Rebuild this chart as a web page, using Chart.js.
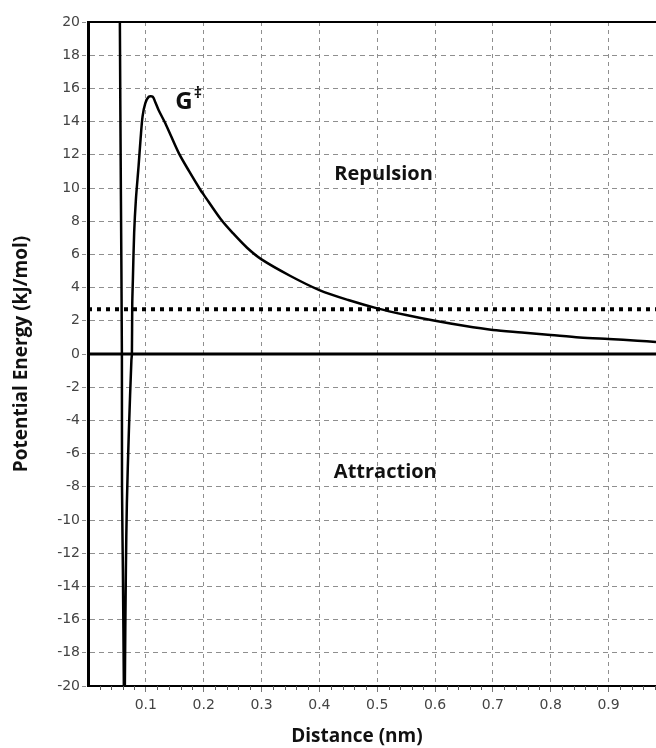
<!DOCTYPE html>
<html><head><meta charset="utf-8">
<script src="https://cdn.jsdelivr.net/npm/chart.js@4.4.0/dist/chart.umd.min.js"></script>
<style>html,body{margin:0;padding:0;background:#fff;} #wrap{width:656px;height:748px;position:relative;}</style>
</head><body><div id="wrap"><canvas id="c"></canvas></div>
<script>
// ---- data ----
const distance = [0.0545, 0.0551, 0.0568, 0.0586, 0.0588, 0.0603, 0.0620, 0.0628, 0.0637, 0.0655, 0.0672, 0.0707, 0.0750, 0.0759, 0.0765, 0.0776, 0.0798, 0.0828, 0.0874, 0.0910, 0.0943, 0.0990, 0.1050, 0.1120, 0.1160, 0.1220, 0.1350, 0.1570, 0.1750, 0.1950, 0.2000, 0.2300, 0.2500, 0.2750, 0.3000, 0.3500, 0.4000, 0.4500, 0.5000, 0.5500, 0.6000, 0.6500, 0.7000, 0.7500, 0.8000, 0.8500, 0.9000, 0.9500, 0.9820];
const energy   = [30, 20, 10, 0, -8, -13, -20, -26, -20, -13, -9, -4.6, -0.4, 0, 3, 4.5, 7.3, 9.3, 11.3, 13, 14.3, 15.1, 15.5, 15.5, 15.2, 14.7, 13.8, 12.1, 11.0, 9.85, 9.6, 8.1, 7.3, 6.4, 5.7, 4.7, 3.85, 3.25, 2.75, 2.35, 2.0, 1.7, 1.45, 1.3, 1.15, 1.0, 0.9, 0.8, 0.72];
const barrierLevel = [2.7, 2.7];
const zeroLevel = [0, 0];
const levelX = [0, 0.982];
const xTickValues = [0.1, 0.2, 0.3, 0.4, 0.5, 0.6, 0.7, 0.8, 0.9];
const xTickLabels = ['0.1', '0.2', '0.3', '0.4', '0.5', '0.6', '0.7', '0.8', '0.9'];
const yTickValues = [-20, -18, -16, -14, -12, -10, -8, -6, -4, -2, 0, 2, 4, 6, 8, 10, 12, 14, 16, 18, 20];
const xMinorStep = 0.02;
const labelTexts = ['Repulsion', 'Attraction', 'G'];
const labelX = [0.511, 0.514, 0.166];
const labelY = [10.8, -7.1, 15.2];
const xTitle = 'Distance (nm)';
const yTitle = 'Potential Energy (kJ/mol)';

const X_MIN = 0, X_MAX = 0.982, Y_MIN = -20, Y_MAX = 20;
const TICK_FONT = { family: '"DejaVu Sans", sans-serif', size: 14 };
const BOLD = '"Open Sans", "DejaVu Sans", sans-serif';

const xy = (xs, ys) => xs.map((x, i) => ({ x: x, y: ys[i] }));

const decorPlugin = {
  id: 'decor',
  afterDatasetsDraw(chart) {
    const { ctx, chartArea: a, scales: { x, y } } = chart;
    ctx.save();
    ctx.strokeStyle = '#000'; ctx.lineWidth = 2;
    ctx.beginPath(); ctx.moveTo(a.left, a.top); ctx.lineTo(a.right, a.top); ctx.stroke();
    ctx.strokeStyle = '#555'; ctx.lineWidth = 1;
    for (let i = 1; i * xMinorStep < X_MAX; i++) {
      if (i % 5 === 0) continue;
      const px = Math.round(x.getPixelForValue(i * xMinorStep)) + 0.5;
      ctx.beginPath(); ctx.moveTo(px, a.bottom); ctx.lineTo(px, a.bottom + 4); ctx.stroke();
    }
    ctx.fillStyle = '#111';
    ctx.textAlign = 'center'; ctx.textBaseline = 'middle';
    ctx.font = '700 20px ' + BOLD;
    ctx.fillText(labelTexts[0], x.getPixelForValue(labelX[0]), y.getPixelForValue(labelY[0]));
    ctx.fillText(labelTexts[1], x.getPixelForValue(labelX[1]), y.getPixelForValue(labelY[1]));
    ctx.font = '700 24px ' + BOLD;
    const gx = x.getPixelForValue(labelX[2]), gy = y.getPixelForValue(labelY[2]);
    ctx.fillText(labelTexts[2], gx, gy);
    const gw = ctx.measureText(labelTexts[2]).width;
    ctx.font = '700 16px ' + BOLD;
    ctx.textAlign = 'left';
    ctx.fillText('\u2021', gx + gw / 2 + 1, gy - 8);
    ctx.font = '700 19px ' + BOLD;
    ctx.textAlign = 'center';
    ctx.fillText(xTitle, x.getPixelForValue(0.465), 737);
    ctx.restore();
  }
};

new Chart(document.getElementById('c'), {
  type: 'line',
  data: {
    datasets: [
      { data: xy(distance, energy), borderColor: '#000', borderWidth: 2.5, pointRadius: 0, tension: 0.3, fill: false },
      { data: xy(levelX, zeroLevel), borderColor: '#000', borderWidth: 3, pointRadius: 0, fill: false },
      { data: xy(levelX, barrierLevel), borderColor: '#000', borderWidth: 4, borderDash: [4, 5], pointRadius: 0, fill: false }
    ]
  },
  options: {
    responsive: true, maintainAspectRatio: false, animation: false,
    layout: { padding: { top: 22, right: 0, bottom: 0, left: 0 } },
    plugins: { legend: { display: false }, tooltip: { enabled: false } },
    scales: {
      x: {
        type: 'linear', min: X_MIN, max: X_MAX,
        afterBuildTicks: s => { s.ticks = xTickValues.map(v => ({ value: v })); },
        afterFit: s => { s.height = 62; },
        ticks: { font: TICK_FONT, color: '#444', padding: 5, maxRotation: 0, autoSkip: false,
          callback: (v) => { const i = xTickValues.indexOf(v); return i >= 0 ? xTickLabels[i] : ''; } },
        grid: { color: '#8f8f8f', lineWidth: 1, tickLength: 6, tickColor: '#777', drawTicks: true },
        border: { color: '#000', width: 2, dash: [4, 4] },
        title: { display: false }
      },
      y: {
        type: 'linear', min: Y_MIN, max: Y_MAX,
        afterBuildTicks: s => { s.ticks = yTickValues.map(v => ({ value: v })); },
        afterFit: s => { s.width = 88; },
        ticks: { font: TICK_FONT, color: '#444', padding: 2, autoSkip: false,
          callback: v => String(v) },
        grid: { color: '#8f8f8f', lineWidth: 1, tickLength: 6, tickColor: '#8f8f8f', tickBorderDash: [4, 4] },
        border: { color: '#000', width: 3, dash: [5, 4] },
        title: { display: true, text: yTitle, color: '#111', font: { family: BOLD, size: 19, weight: '700' }, padding: { top: 10, bottom: 0 } }
      }
    }
  },
  plugins: [decorPlugin]
});
</script>
</body></html>
